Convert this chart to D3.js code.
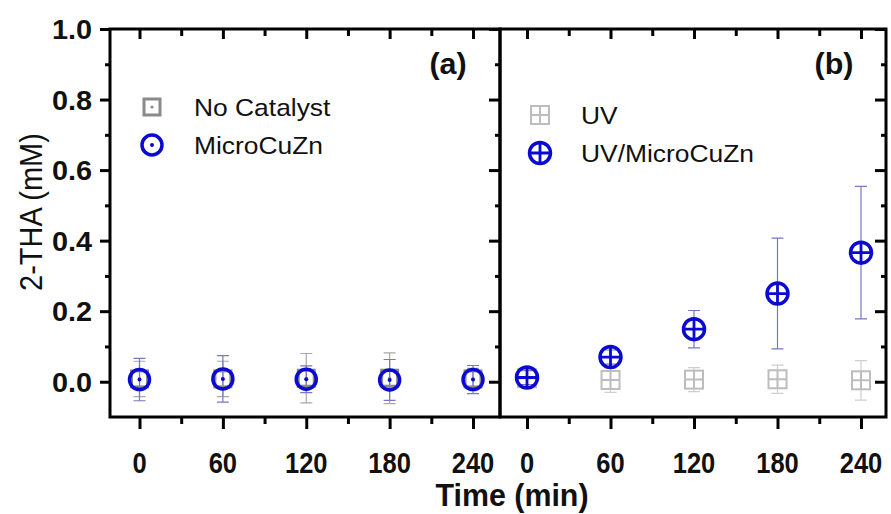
<!DOCTYPE html>
<html>
<head>
<meta charset="utf-8">
<script src="https://cdn.jsdelivr.net/npm/d3@7"></script>
<style>
	body { margin: 0; background: #fff; }
	svg { display: block; font-family: Arial, "Liberation Sans", sans-serif; }
</style>
</head>
<body>
<svg id="chart" width="891" height="514"></svg>
<script>
// data
var times = [0, 60, 120, 180, 240];
var yTicks = [0, 0.2, 0.4, 0.6, 0.8, 1.0];
var yMinor = [0.1, 0.3, 0.5, 0.7, 0.9];
var xMinor = [30, 90, 150, 210];

// panel (a)
var noCatMean = [0.008, 0.008, 0.01, 0.01, 0.008];
var noCatErr = [0.05, 0.05, 0.07, 0.072, 0.03];
var microMean = [0.006, 0.008, 0.007, 0.005, 0.006];
var microErr = [0.06, 0.066, 0.038, 0.058, 0.04];

// panel (b)
var uvMean = [0.01, 0.005, 0.006, 0.007, 0.004];
var uvErr = [0.02, 0.035, 0.034, 0.04, 0.056];
var uvMicroMean = [0.012, 0.07, 0.149, 0.25, 0.366];
var uvMicroErr = [0.02, 0.02, 0.053, 0.157, 0.188];

var svg = d3.select('#chart');
var top_y = 29, bot_y = 417;
var y = d3.scaleLinear().domain([-0.1, 1.0]).range([bot_y, top_y]);

var BLUE = '#0a0ad2';
var BLUE_ERR = '#7777c4';
var GRAY = '#8a8a8a';
var LGRAY = '#bdbdbd';

// text helper: image is a little stretched, so scale text on x
function addText(g, x, yy, str, o) {
	return g.append('text')
		.attr('transform', 'translate(' + x + ',' + yy + ') scale(' + (o.sx || 1) + ',1)' + (o.rot ? ' rotate(' + o.rot + ')' : ''))
		.attr('text-anchor', o.anchor || 'start')
		.style('font-size', o.size + 'px')
		.style('font-weight', o.bold ? 'bold' : 'normal')
		.style('fill', '#111')
		.text(str);
}

var panels = [
	{left: 110, right: 500, x0: 139.5, x1: 473, label: '(a)', labelX: 448, leftAxis: true, rightAxis: true,
		series: [
			{mean: noCatMean, err: noCatErr, shape: 'sqdot', color: GRAY, errColor: '#a8a8a8', name: 'No Catalyst'},
			{mean: microMean, err: microErr, shape: 'circdot', color: BLUE, errColor: BLUE_ERR, name: 'MicroCuZn'}
		], legX: 152, legTx: 194},
	{left: 500, right: 886, x0: 527, x1: 861, label: '(b)', labelX: 834, leftAxis: false, rightAxis: true,
		series: [
			{mean: uvMean, err: uvErr, shape: 'sqcross', color: LGRAY, errColor: '#cfcfcf', name: 'UV'},
			{mean: uvMicroMean, err: uvMicroErr, shape: 'circcross', color: BLUE, errColor: BLUE_ERR, name: 'UV/MicroCuZn'}
		], legX: 540, legTx: 581}
];

function drawMarker(g, shape, color) {
	if (shape === 'sqdot') {
		g.append('rect').attr('x', -8).attr('y', -8).attr('width', 16).attr('height', 16)
			.attr('fill', 'none').attr('stroke', color).attr('stroke-width', 3);
		g.append('circle').attr('r', 1.6).attr('fill', color);
	} else if (shape === 'circdot') {
		g.append('circle').attr('r', 10).attr('fill', 'none').attr('stroke', color).attr('stroke-width', 3.5);
		g.append('circle').attr('r', 2).attr('fill', color);
	} else if (shape === 'sqcross') {
		g.append('rect').attr('x', -9).attr('y', -9).attr('width', 18).attr('height', 18)
			.attr('fill', 'none').attr('stroke', color).attr('stroke-width', 2);
		g.append('path').attr('d', 'M-9,0H9M0,-9V9').attr('stroke', color).attr('stroke-width', 2);
	} else {
		g.append('circle').attr('r', 10.5).attr('fill', 'none').attr('stroke', color).attr('stroke-width', 3.5);
		g.append('path').attr('d', 'M-10.5,0H10.5M0,-10.5V10.5').attr('stroke', color).attr('stroke-width', 2.8);
	}
}

panels.forEach(function(p) {
	var x = d3.scaleLinear().domain([0, 240]).range([p.x0, p.x1]);
	var g = svg.append('g');

	// bottom axis, outward ticks
	g.append('g').attr('transform', 'translate(0,' + bot_y + ')')
		.call(d3.axisBottom(x).tickValues(times).tickSize(12).tickFormat(''));
	g.append('g').attr('transform', 'translate(0,' + bot_y + ')')
		.call(d3.axisBottom(x).tickValues(xMinor).tickSize(7).tickFormat(''));
	// top axis, inward ticks
	g.append('g').attr('transform', 'translate(0,' + top_y + ')')
		.call(d3.axisBottom(x).tickValues(times).tickSize(10).tickFormat(''));
	g.append('g').attr('transform', 'translate(0,' + top_y + ')')
		.call(d3.axisBottom(x).tickValues(xMinor).tickSize(7).tickFormat(''));

	if (p.leftAxis) {
		g.append('g').attr('transform', 'translate(' + p.left + ',0)')
			.call(d3.axisLeft(y).tickValues(yTicks).tickSize(10).tickFormat(''));
		g.append('g').attr('transform', 'translate(' + p.left + ',0)')
			.call(d3.axisLeft(y).tickValues(yMinor).tickSize(5).tickFormat(''));
		yTicks.forEach(function(v) {
			addText(g, 92, y(v) + 10, d3.format('.1f')(v), {size: 28, bold: true, anchor: 'end', sx: 1.03});
		});
	}
	if (p.rightAxis) {
		g.append('g').attr('transform', 'translate(' + p.right + ',0)')
			.call(d3.axisLeft(y).tickValues(yTicks).tickSize(11).tickFormat(''));
		g.append('g').attr('transform', 'translate(' + p.right + ',0)')
			.call(d3.axisLeft(y).tickValues(yMinor).tickSize(5).tickFormat(''));
	}
	g.selectAll('.domain').remove();
	g.selectAll('.tick line').attr('stroke', '#000').attr('stroke-width', 3);

	// x tick labels
	times.forEach(function(t) {
		addText(g, x(t), 473, String(t), {size: 30, bold: true, anchor: 'middle', sx: 0.85});
	});

	// frame
	g.append('rect').attr('x', p.left).attr('y', top_y)
		.attr('width', p.right - p.left).attr('height', bot_y - top_y)
		.attr('fill', 'none').attr('stroke', '#000').attr('stroke-width', 3);

	// error bars and markers
	p.series.forEach(function(s) {
		var eb = g.append('g').attr('stroke', s.errColor).attr('stroke-width', 1.2).attr('fill', 'none');
		times.forEach(function(t, i) {
			var cx = x(t), hi = y(s.mean[i] + s.err[i]), lo = y(s.mean[i] - s.err[i]);
			eb.append('path').attr('d', 'M' + cx + ',' + hi + 'V' + lo +
				'M' + (cx - 6) + ',' + hi + 'H' + (cx + 6) + 'M' + (cx - 6) + ',' + lo + 'H' + (cx + 6));
		});
	});
	p.series.forEach(function(s) {
		times.forEach(function(t, i) {
			var mg = g.append('g').attr('transform', 'translate(' + x(t) + ',' + y(s.mean[i]) + ')');
			drawMarker(mg, s.shape, s.color);
		});
	});

	// legend
	p.series.forEach(function(s, i) {
		var ly = 107 + i * 38 + (p.leftAxis ? 0 : 8);
		var lg = g.append('g').attr('transform', 'translate(' + p.legX + ',' + ly + ')');
		drawMarker(lg, s.shape, s.color);
		addText(g, p.legTx, ly + 9, s.name, {size: 24, sx: 1.1});
	});

	addText(g, p.labelX, 74, p.label, {size: 29, bold: true, anchor: 'middle', sx: 1.05});
});

// axis titles
addText(svg, 42, 212, '2-THA (mM)', {size: 29, anchor: 'middle', sx: 1.1, rot: -90});
addText(svg, 512, 506, 'Time (min)', {size: 32, bold: true, anchor: 'middle', sx: 0.95});
</script>
</body>
</html>
